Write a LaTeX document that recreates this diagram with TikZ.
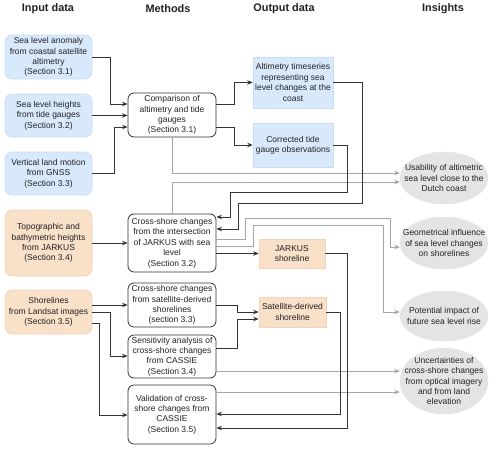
\documentclass[tikz,border=0pt]{standalone}
\usepackage{fontspec}
\setmainfont{Liberation Sans}
\usetikzlibrary{arrows.meta,shapes.geometric}
\definecolor{ln}{HTML}{333333}
\definecolor{gl}{HTML}{A6A6A6}
\definecolor{txt}{HTML}{222222}
\definecolor{bluef}{HTML}{D8E9FB}
\definecolor{blued}{HTML}{C6DCF4}
\definecolor{oraf}{HTML}{F8E0C9}
\definecolor{orad}{HTML}{F2D4B7}
\definecolor{insf}{HTML}{E4E4E4}
\newcommand\diagfs{\fontsize{8.5}{10.4}\selectfont}
\begin{document}
\begin{tikzpicture}[x=1pt,y=-1pt,
  box/.style={align=center, font=\diagfs, inner sep=0pt, text=txt},
  inbox/.style={box, rounded corners=7pt, fill=bluef, draw=blued, line width=0.6pt, minimum width=87pt},
  orbox/.style={box, rounded corners=7pt, fill=oraf, draw=orad, line width=0.6pt, minimum width=87pt},
  mbox/.style={box, rounded corners=6pt, fill=white, draw=ln, line width=0.8pt, minimum width=88pt},
  obox/.style={box, fill=bluef, draw=blued, line width=0.6pt, minimum width=80pt},
  oobox/.style={box, fill=oraf, draw=orad, line width=0.6pt, minimum width=66pt},
  ins/.style={ellipse, fill=insf, draw=insf, inner sep=0pt, minimum width=88pt},
  head/.style={font=\fontsize{10.9}{12}\selectfont\bfseries, text=txt, inner sep=0pt},
  arr/.style={draw=ln, line width=0.9pt, -{Stealth[length=5.5pt,width=4.5pt]}},
  garr/.style={draw=gl, line width=0.8pt, -{Stealth[length=5.5pt,width=4.5pt]}}
]
\useasboundingbox (0,0) rectangle (500,448);

% headers
\node[head] (h1) at (48,9) {Input data};
\node[head] (h2) at (168,9) {Methods};
\node[head] (h3) at (284,9) {Output data};
\node[head] (h4) at (443,9) {Insights};

% input data
\node[inbox, minimum height=44pt] (A1) at (48.5,57) {Sea level anomaly\\from coastal satellite\\altimetry\\(Section 3.1)};
\node[inbox, minimum height=43pt] (A2) at (48.5,115.5) {Sea level heights\\from tide gauges\\(Section 3.2)};
\node[inbox, minimum height=43pt] (A3) at (48.5,173.5) {Vertical land motion\\from GNSS\\(Section 3.3)};
\node[orbox, minimum height=66pt] (A4) at (48.5,243) {Topographic and\\bathymetric heights\\from JARKUS\\(Section 3.4)};
\node[orbox, minimum height=44pt] (A5) at (48.5,312) {Shorelines\\from Landsat images\\(Section 3.5)};

% methods
\node[mbox, minimum height=44pt] (M1) at (172,115) {Comparison of\\altimetry and tide\\gauges\\(Section 3.1)};
\node[mbox, minimum height=58pt] (M2) at (172,243) {Cross-shore changes\\from the intersection\\of JARKUS with sea\\level\\(Section 3.2)};
\node[mbox, minimum height=44pt] (M3) at (172,305) {Cross-shore changes\\from satellite-derived\\shorelines\\(section 3.3)};
\node[mbox, minimum height=43pt] (M4) at (172,356.5) {Sensitivity analysis of\\cross-shore changes\\from CASSIE\\(Section 3.4)};
\node[mbox, minimum height=59pt] (M5) at (172,414.5) {Validation of cross-\\shore changes from\\CASSIE\\(Section 3.5)};

% output data
\node[obox, minimum height=51pt] (O1) at (293,82.5) {Altimetry timeseries\\representing sea\\level changes at the\\coast};
\node[obox, minimum height=44pt] (O2) at (293,145) {Corrected tide\\gauge observations};
\node[oobox, minimum height=29pt] (O3) at (292,253.5) {JARKUS\\shoreline};
\node[oobox, minimum height=30pt, minimum width=67pt] (O4) at (292.5,312) {Satellite-derived\\shoreline};

% insights
\node[ins, minimum height=52pt] (I1) at (444,178) {};
\node[box] (I1t) at (I1) {Usability of altimetric\\sea level close to the\\Dutch coast};
\node[ins, minimum height=52pt] (I2) at (444,243) {};
\node[box] (I2t) at (I2) {Geometrical influence\\of sea level changes\\on shorelines};
\node[ins, minimum height=50pt] (I3) at (444,316) {};
\node[box] (I3t) at (I3) {Potential impact of\\future sea level rise};
\node[ins, minimum height=66pt] (I4) at (444,381) {};
\node[box] (I4t) at (I4) {Uncertainties of\\cross-shore changes\\from optical imagery\\and from land\\elevation};

% gray connectors
\draw[garr] (M1.south) |- (I1.west |- 0,173);
\draw[garr] (M2.north) |- (I1.west |- 0,182);
\draw[garr] (M2.east |- 0,239) -| (245,218) -| (390,247) -- (I2.west |- 0,247);
\draw[garr] (M2.east |- 0,246) -| (253,225) -| (383,312) -- (I3.west |- 0,312);
\draw[garr] (M4.east |- 0,371) -- (I4.west |- 0,371);
\draw[garr] (M5.east |- 0,392) -- (I4.west |- 0,392);

% black connectors
\draw[arr] (A1.east) -| (110,104) -- (M1.west |- 0,104);
\draw[arr] (A2.east) -- (M1.west |- A2.east);
\draw[arr] (A3.east) -| (114,127) -- (M1.west |- 0,127);
\draw[arr] (M1.east |- 0,104) -| (234,82.5) -- (O1.west);
\draw[arr] (M1.east |- 0,127) -| (234,145) -- (O2.west);
\draw[arr] (O2.east) -| (347,192) -| (230,217) -- (M2.east |- 0,217);
\draw[arr] (O1.east) -| (362,203) -| (238,229) -- (M2.east |- 0,229);
\draw[arr] (A4.east) -- (M2.west |- A4.east);
\draw[arr] (M2.east |- O3.west) -- (O3.west);
\draw[arr] (O3.east) -| (347,428) -- (M5.east |- 0,428);
\draw[arr] (O4.east) -| (340,414) -- (M5.east |- 0,414);
\draw[arr] (A5.east |- 0,305) -- (M3.west |- 0,305);
\draw[arr] (A5.east |- 0,312) -| (110,356) -- (M4.west |- 0,356);
\draw[arr] (A5.east |- 0,323) -| (99,415) -- (M5.west |- 0,415);
\draw[arr] (M3.east |- 0,305) -| (237,312) -- (O4.west |- 0,312);
\draw[arr] (M4.east |- 0,348) -| (237,319) -- (O4.west |- 0,319);
\end{tikzpicture}
\end{document}
